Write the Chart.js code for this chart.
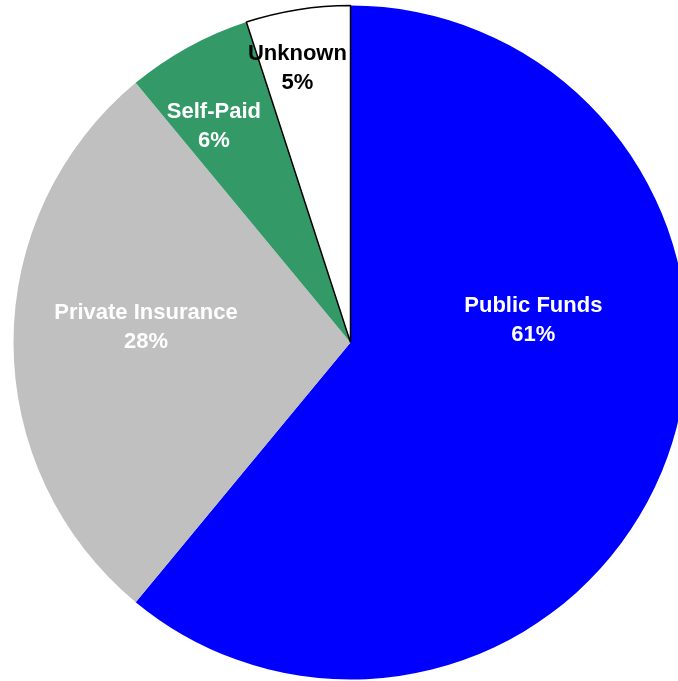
<!DOCTYPE html>
<html>
<head>
<meta charset="utf-8">
<script src="https://cdn.jsdelivr.net/npm/chart.js@4/dist/chart.umd.min.js"></script>
<style>
  html, body { margin: 0; padding: 0; background: #ffffff; overflow: hidden; }
  #wrap { position: absolute; left: 0; top: 0; width: 701px; height: 685px; }
</style>
</head>
<body>
<div id="wrap"><canvas id="chart" width="701" height="685"></canvas></div>
<script>
// Payment sources, shares in percent
const categories = ['Public Funds', 'Private Insurance', 'Self-Paid', 'Unknown'];
const shares = [61, 28, 6, 5];

// Slice styling
const sliceColors = ['#0000ff', '#c0c0c0', '#339966', '#ffffff'];
const sliceBorderWidths = [0, 0, 0, 1.5];
const labelColors = ['#ffffff', '#ffffff', '#ffffff', '#000000'];

// Label placement: angle clockwise from 12 o'clock (deg), distance as fraction of radius
const labelAngles = [82.7, 274.6, 327.9, 349.1];
const labelRadii = [0.547, 0.609, 0.763, 0.833];

const FONT_SIZE = 22;
const LINE_GAP = 29;

const sliceLabels = {
  id: 'sliceLabels',
  afterDatasetsDraw(chart) {
    const ctx = chart.ctx;
    const meta = chart.getDatasetMeta(0);
    ctx.save();
    ctx.font = 'bold ' + FONT_SIZE + 'px "Liberation Sans", Arial, sans-serif';
    ctx.textAlign = 'center';
    ctx.textBaseline = 'alphabetic';
    meta.data.forEach((arc, i) => {
      const p = arc.getProps(['x', 'y', 'outerRadius'], true);
      const a = labelAngles[i] * Math.PI / 180;
      const cx = p.x + Math.sin(a) * labelRadii[i] * p.outerRadius;
      const cy = p.y - Math.cos(a) * labelRadii[i] * p.outerRadius;
      const capHalf = FONT_SIZE * 0.358;
      ctx.fillStyle = labelColors[i];
      ctx.fillText(categories[i], cx, cy - LINE_GAP / 2 + capHalf);
      ctx.fillText(shares[i] + '%', cx, cy + LINE_GAP / 2 + capHalf);
    });
    ctx.restore();
  }
};

new Chart(document.getElementById('chart'), {
  type: 'pie',
  data: {
    labels: categories,
    datasets: [{
      data: shares,
      backgroundColor: sliceColors,
      borderColor: '#000000',
      borderWidth: sliceBorderWidths,
      hoverOffset: 0
    }]
  },
  options: {
    responsive: false,
    animation: false,
    radius: 337,
    layout: { padding: 0 },
    plugins: {
      legend: { display: false },
      tooltip: { enabled: false }
    }
  },
  plugins: [sliceLabels]
});
</script>
</body>
</html>
